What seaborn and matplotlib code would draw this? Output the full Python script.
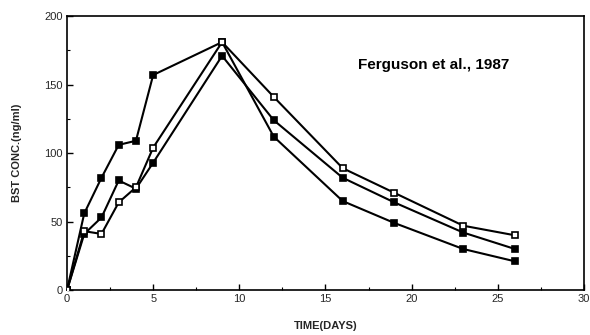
import matplotlib
matplotlib.use("Agg")
import matplotlib.pyplot as plt
import seaborn as sns
import pandas as pd
from matplotlib.ticker import MultipleLocator

days = [0, 1, 2, 3, 4, 5, 9, 12, 16, 19, 23, 26]
conc_fast = [0, 56, 82, 106, 109, 157, 181, 112, 65, 49, 30, 21]
conc_open = [0, 43, 41, 64, 75, 104, 181, 141, 89, 71, 47, 40]
conc_mid = [0, 41, 53, 80, 74, 93, 171, 124, 82, 64, 42, 30]

sns.set_theme(style="ticks")
plt.rcParams["font.family"] = ["Liberation Sans", "DejaVu Sans"]

fig = plt.figure(figsize=(5.9, 3.35), dpi=100)
ax = fig.add_axes([0.1136, 0.134, 0.876, 0.818])

series = [
    (conc_fast, "black"),
    (conc_mid, "black"),
    (conc_open, "white"),
]
for vals, face in series:
    df = pd.DataFrame({"day": days, "conc": vals})
    sns.lineplot(data=df, x="day", y="conc", ax=ax, color="black",
                 linewidth=1.5, marker="s", markersize=5,
                 markerfacecolor=face, markeredgecolor="black",
                 markeredgewidth=1.2, zorder=3)

ax.set_xlim(0, 30)
ax.set_ylim(0, 200)
ax.xaxis.set_major_locator(MultipleLocator(5))
ax.xaxis.set_minor_locator(MultipleLocator(2.5))
ax.yaxis.set_major_locator(MultipleLocator(50))
ax.yaxis.set_minor_locator(MultipleLocator(25))
ax.tick_params(which="major", direction="in", length=4, width=1,
               labelsize=8, pad=3, color="black")
ax.tick_params(which="minor", direction="in", length=2.5, width=0.8,
               color="black")
for s in ax.spines.values():
    s.set_visible(True)
    s.set_linewidth(1.2)
    s.set_color("black")

ax.set_xlabel("TIME(DAYS)", fontsize=8, fontweight="bold", labelpad=12)
ax.set_ylabel("BST CONC.(ng/ml)", fontsize=8, fontweight="bold", labelpad=16)
ax.text(21.3, 164, "Ferguson et al., 1987", fontsize=11, fontweight="bold",
        ha="center", va="center", color="black")

fig.savefig("out.png", dpi=100)
